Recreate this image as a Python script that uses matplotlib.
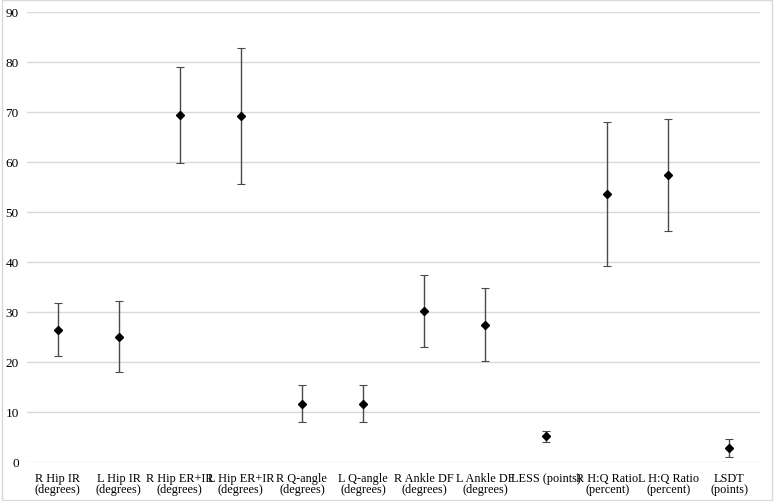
import matplotlib.pyplot as plt
from matplotlib.patches import Rectangle

labels = ['R Hip IR\n(degrees)', 'L Hip IR\n(degrees)', 'R Hip ER+IR\n(degrees)',
          'L Hip ER+IR\n(degrees)', 'R Q-angle\n(degrees)', 'L Q-angle\n(degrees)',
          'R Ankle DF\n(degrees)', 'L Ankle DF\n(degrees)', 'LESS (points)',
          'R H:Q Ratio\n(percent)', 'L H:Q Ratio\n(percent)', 'LSDT\n(points)']
means = [26.5, 25.1, 69.4, 69.2, 11.7, 11.7, 30.2, 27.5, 5.2, 53.6, 57.4, 2.8]
sds = [5.3, 7.1, 9.6, 13.6, 3.7, 3.7, 7.2, 7.3, 1.1, 14.4, 11.2, 1.8]

plt.rcParams['font.family'] = ['Liberation Serif', 'DejaVu Serif']

fig = plt.figure(figsize=(7.74, 5.02), dpi=100)
ax = fig.add_axes([27 / 774, 1 - 463 / 502, 733 / 774, 450 / 502])

x = list(range(len(labels)))
ax.errorbar(x, means, yerr=sds, fmt='D', color='black', markersize=4,
            ecolor='#4a4a4a', elinewidth=1.0, capsize=3, capthick=0.8, zorder=3)

ax.set_xlim(-0.5, len(labels) - 0.5)
ax.set_ylim(0, 90)
ax.set_yticks(range(0, 91, 10))
ax.set_xticks(x)
ax.set_xticklabels(labels, fontsize=8.8, linespacing=0.95)
ax.tick_params(axis='y', labelsize=9.5, length=0, pad=6)
ax.tick_params(axis='x', length=0, pad=7)
ax.grid(axis='y', color='#d9d9d9', linewidth=1)
ax.set_axisbelow(True)
for s in ax.spines.values():
    s.set_visible(False)

# outer chart border
fig.patches.append(Rectangle((0.002, 0.002), 0.996, 0.996, transform=fig.transFigure,
                             fill=False, edgecolor='#d9d9d9', linewidth=1))

fig.savefig('out.png', dpi=100)
